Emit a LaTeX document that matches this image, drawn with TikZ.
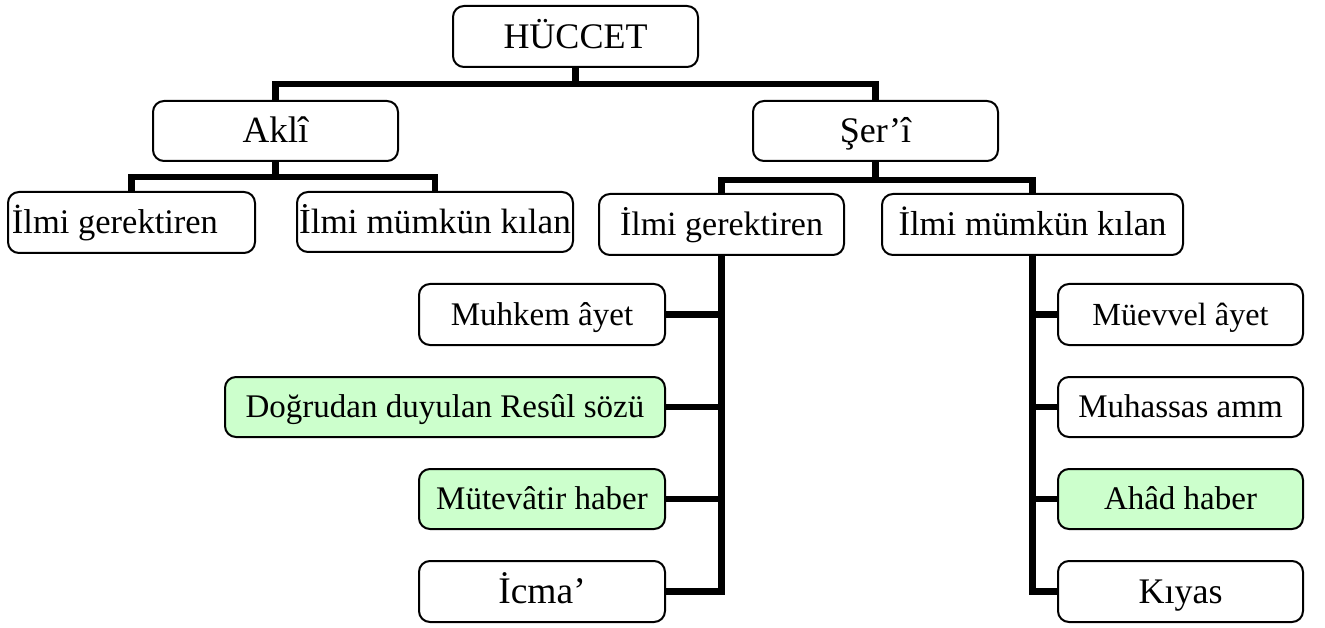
\documentclass[tikz,border=0pt]{standalone}
\usepackage{fontspec}
\setmainfont{Liberation Serif}
\begin{document}
\begin{tikzpicture}[x=1pt,y=-1pt,
  box/.style={draw=black, line width=2pt, rounded corners=11pt, fill=white, inner sep=0pt,
    minimum height=60pt, text height=28.4pt, text depth=7.3pt, font=\fontsize{33}{40}\selectfont},
  gbox/.style={box, fill=green!20},
  big/.style={font=\fontsize{37}{44}\selectfont, text height=31.8pt, text depth=8.1pt},
  ilmi/.style={font=\fontsize{34.5}{41}\selectfont, text height=29.7pt, text depth=7.6pt},
  conn/.style={line width=6.5pt}]
\useasboundingbox (0,0) rectangle (1325,628);
% nodes
\node[box, big, font=\fontsize{36}{43}\selectfont,
      minimum width=245pt, minimum height=61pt] (huc) at (575.5,36.5) {HÜCCET};
\node[box, big, minimum width=245pt] (akli) at (275.5,131) {Aklî};
\node[box, big, font=\fontsize{36}{43}\selectfont, minimum width=245pt] (seri) at (875.5,131) {Şer’î};
\node[box, ilmi, minimum width=247pt, minimum height=61pt] (lg) at (131.5,222.5)
      {\makebox[239pt][l]{İlmi gerektiren}};
\node[box, ilmi, font=\fontsize{35.2}{42}\selectfont, minimum width=276pt] (lm) at (435,222) {İlmi mümkün kılan};
\node[box, ilmi, font=\fontsize{34}{41}\selectfont, minimum width=245pt, minimum height=61pt] (rg) at (721.5,224.5) {İlmi gerektiren};
\node[box, ilmi, font=\fontsize{34.7}{41}\selectfont, minimum width=301pt, minimum height=61pt] (rm) at (1032.5,224.5) {İlmi mümkün kılan};
\node[box, minimum width=246pt, minimum height=61pt] (muh) at (542,314.5) {Muhkem âyet};
\node[gbox, minimum width=440pt] (dog) at (445,407) {Doğrudan duyulan Resûl sözü};
\node[gbox, minimum width=246pt] (mut) at (542,499) {Mütevâtir haber};
\node[box, big, font=\fontsize{37.5}{44}\selectfont,
      minimum width=246pt, minimum height=61pt] (icma) at (542,591.5) {İcma’};
\node[box, font=\fontsize{32.2}{39}\selectfont, minimum width=245pt, minimum height=61pt] (muev) at (1180.5,314.5) {Müevvel âyet};
\node[box, minimum width=245pt] (muhas) at (1180.5,407) {Muhassas amm};
\node[gbox, minimum width=245pt] (ahad) at (1180.5,499) {Ahâd haber};
\node[box, big, font=\fontsize{36}{43}\selectfont,
      minimum width=245pt, minimum height=61pt] (kiyas) at (1180.5,591.5) {Kıyas};
% junctions
\coordinate (j1) at (575.5,84);
\coordinate (j2) at (275.5,177);
\coordinate (j3) at (875.5,180);
% connectors
\draw[conn] (huc.south) -- (j1);
\draw[conn] (akli.north) |- (j1) -| (seri.north);
\draw[conn] (akli.south) -- (j2);
\draw[conn] (lg.north) |- (j2) -| (lm.north);
\draw[conn] (seri.south) -- (j3);
\draw[conn] (rg.north) |- (j3) -| (rm.north);
\draw[conn] (rg.south) |- (icma.east);
\draw[conn] (muh.east) -- (muh.east -| rg.south);
\draw[conn] (dog.east) -- (dog.east -| rg.south);
\draw[conn] (mut.east) -- (mut.east -| rg.south);
\draw[conn] (rm.south) |- (kiyas.west);
\draw[conn] (muev.west) -- (muev.west -| rm.south);
\draw[conn] (muhas.west) -- (muhas.west -| rm.south);
\draw[conn] (ahad.west) -- (ahad.west -| rm.south);
\end{tikzpicture}
\end{document}
